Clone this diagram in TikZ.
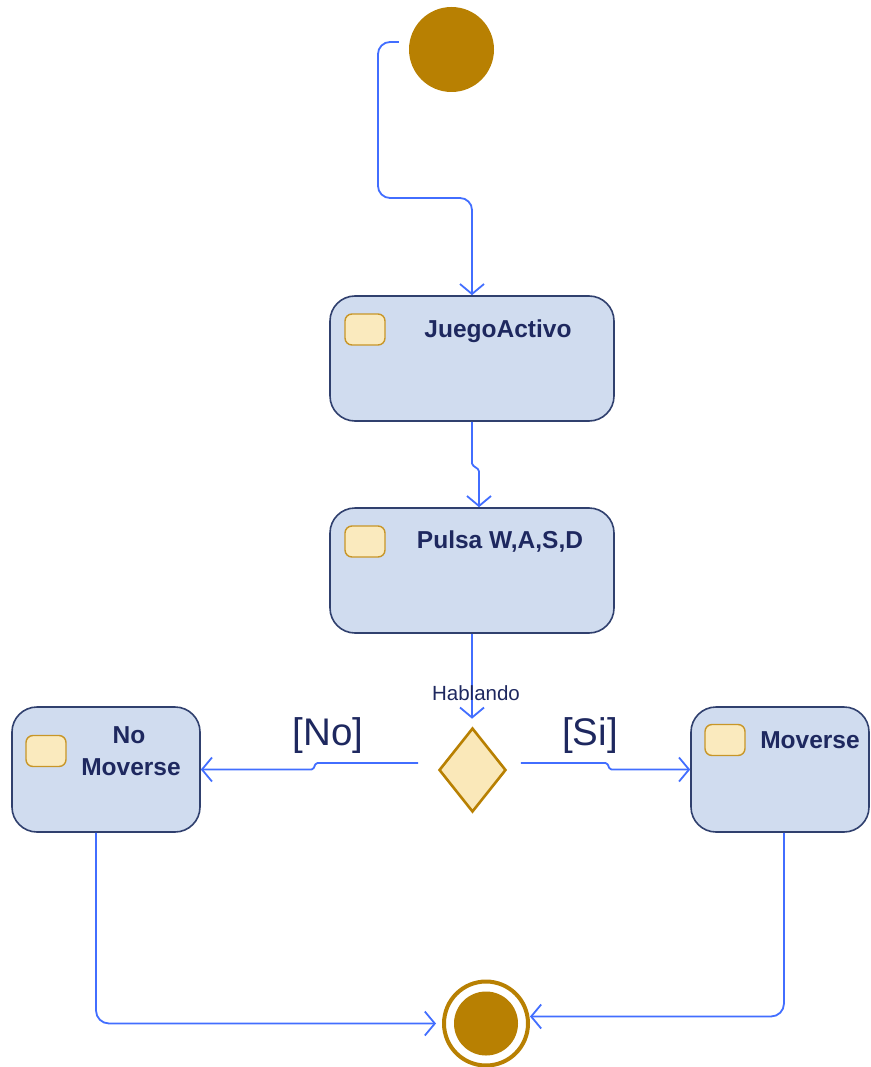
\documentclass[tikz,border=0pt]{standalone}
\usepackage{fontspec}
\setmainfont{Liberation Sans}
\usetikzlibrary{arrows.meta,shapes.geometric,calc}

\definecolor{umber}{RGB}{184,128,2}
\definecolor{boxfill}{RGB}{208,220,239}
\definecolor{boxline}{RGB}{48,64,110}
\definecolor{ink}{RGB}{30,40,95}
\definecolor{flowblue}{RGB}{66,110,255}
\definecolor{iconfill}{RGB}{250,234,190}
\definecolor{iconline}{RGB}{200,150,40}
\definecolor{diamfill}{RGB}{250,232,185}

\begin{document}
\begin{tikzpicture}[x=1pt,y=-1pt,
  statebox/.style={draw=boxline, fill=boxfill, line width=1.6pt,
    rounded corners=25pt, minimum height=125pt, inner sep=0pt},
  icon/.style={draw=iconline, fill=iconfill, line width=1.4pt,
    rounded corners=7pt, minimum width=40pt, minimum height=31pt, inner sep=0pt},
  title/.style={font=\bfseries\fontsize{24.5}{32}\selectfont, text=ink,
    anchor=base, inner sep=0pt, align=center},
  guard/.style={font=\fontsize{38.5}{44}\selectfont, text=ink, anchor=base, inner sep=0pt},
  note/.style={font=\fontsize{20.5}{24}\selectfont, text=ink, anchor=base, inner sep=0pt},
  decision/.style={diamond, draw=umber, fill=diamfill, line width=2.6pt,
    minimum width=67pt, minimum height=84pt, aspect=0.8, inner sep=0pt},
  flow/.style={draw=flowblue, line width=1.8pt,
    -{Straight Barb[length=10pt,width=24pt]}}
]
\useasboundingbox (0,0) rectangle (870,1067);

% initial and final pseudo-states
\node[circle, fill=umber, minimum size=85pt, inner sep=0pt] (start) at (451.5,49.5) {};
\node[circle, draw=umber, fill=white, line width=4pt, minimum size=84pt, inner sep=0pt] (fin) at (486,1023.5) {};
\node[circle, fill=umber, minimum size=64pt, inner sep=0pt] (findot) at (fin) {};

% states
\node[statebox, minimum width=284pt] (juego) at (472,358.5) {};
\node[icon] (juegoicon) at (365,329.5) {};
\node[title] (juegotxt) at (498,337) {JuegoActivo};

\node[statebox, minimum width=284pt] (pulsa) at (472,570.5) {};
\node[icon] (pulsaicon) at (365,541.5) {};
\node[title] (pulsatxt) at (500,548.5) {Pulsa W,A,S,D};

\node[statebox, minimum width=188pt] (nomov) at (106,769.5) {};
\node[icon] (nomovicon) at (46,751) {};
\node[title] (nomovtxt1) at (129,743) {No};
\node[title] (nomovtxt2) at (131,775) {Moverse};

\node[statebox, minimum width=178pt] (mov) at (780,769.5) {};
\node[icon] (movicon) at (725,740) {};
\node[title] (movtxt) at (810,748) {Moverse};

% choice
\node[decision] (dec) at (472.5,770) {};
\node[guard] (guardno) at (328,745) {[No]};
\node[guard] (guardsi) at (590,745) {[Si]};

% transitions
\coordinate (startexit) at ($(start.west)+(-10,-7.5)$);
\draw[flow, rounded corners=12pt] (startexit) -- (378,42) -- (378,198)
  -- (juego.north |- 0,198) -- (juego.north);

\draw[flow, rounded corners=1.5pt] (juego.south) -- ++(0,43) -- ++(7,5)
  -- ($(pulsa.north)+(7,0)$);

\draw[flow, shorten >=8pt] (pulsa.south) -- (pulsa.south |- dec.north);

\draw[flow, rounded corners=1.5pt] ($(dec.west)+(-19.5,-7)$) -- (316,763)
  -- (313,769.5) -- (nomov.east);
\draw[flow, rounded corners=1.5pt] ($(dec.east)+(13.5,-7)$) -- (607,763)
  -- (610,769.5) -- (mov.west);

\draw[flow, rounded corners=13pt, shorten >=6pt] ($(nomov.south)+(-10,0)$)
  -- (96,1023.5) -- (fin.west);
\draw[flow, rounded corners=13pt] ($(mov.south)+(4,0)$)
  -- (784,1016.5) -- (fin.east |- 0,1016.5);

% guard label of the incoming transition, set over its line
\node[note] (hablando) at (476,700) {Hablando};
\end{tikzpicture}
\end{document}
